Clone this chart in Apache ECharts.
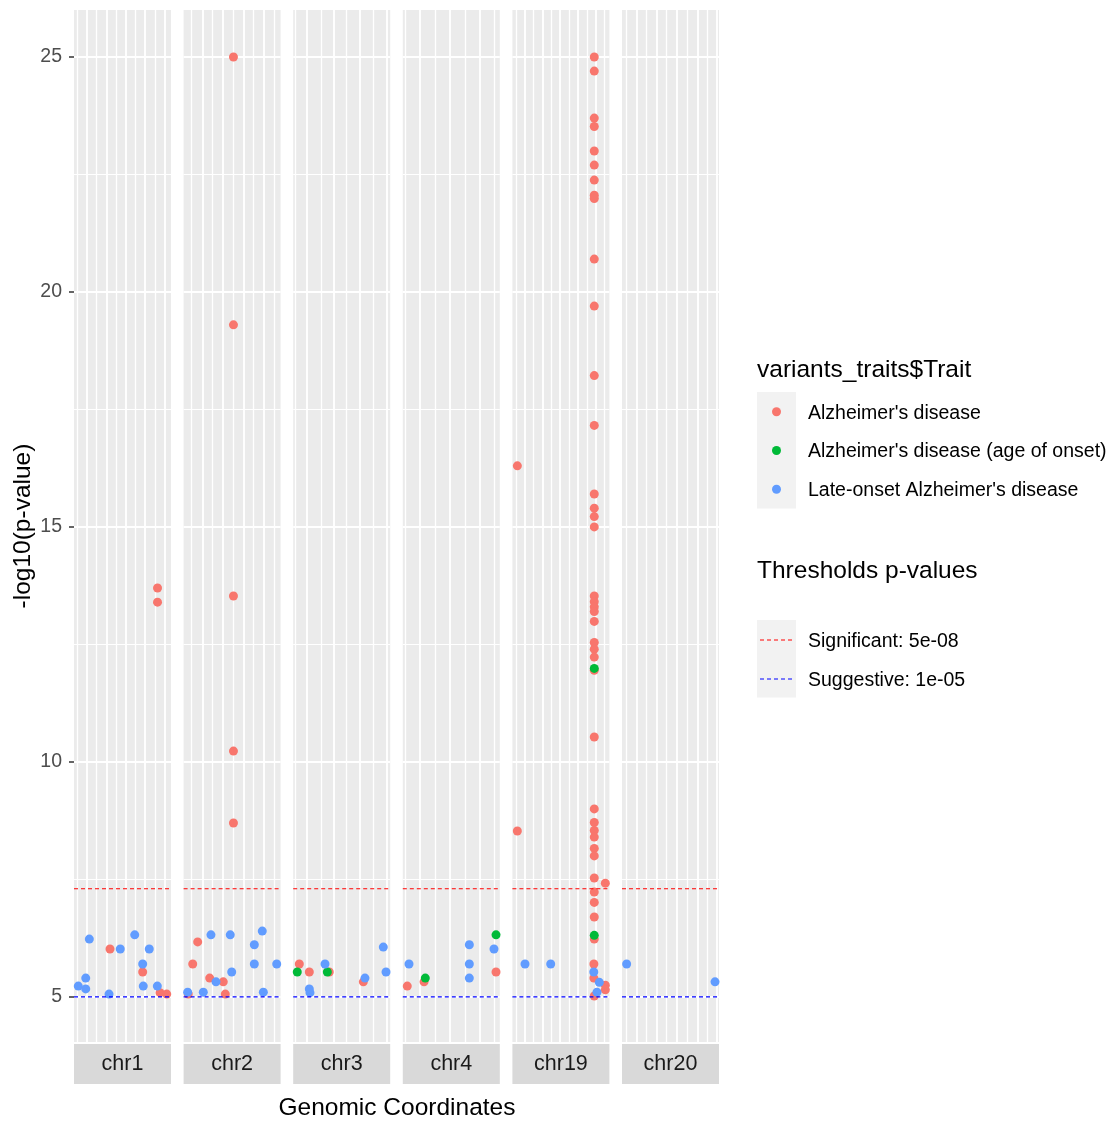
<!DOCTYPE html>
<html><head><meta charset="utf-8">
<script src="https://cdn.jsdelivr.net/npm/echarts@6/dist/echarts.min.js"></script>
<style>html,body{margin:0;padding:0;background:#fff}#chart{width:1114px;height:1121px}</style>
</head><body><div id="chart"></div>
<script>
// ---------- data ----------
const chromosomes = ['chr1', 'chr2', 'chr3', 'chr4', 'chr19', 'chr20'];
const traits = ["Alzheimer's disease", "Alzheimer's disease (age of onset)", "Late-onset Alzheimer's disease"];
const traitColors = ['#F8766D', '#00BA38', '#619CFF'];
const thresholdNames = ['Significant: 5e-08', 'Suggestive: 1e-05'];
const thresholdValues = [-Math.log10(5e-8), -Math.log10(1e-5)];
const thresholdColors = ['#FF0000', '#0000FF'];
const yTicks = [5, 10, 15, 20, 25];
const yMinorTicks = [7.5, 12.5, 17.5, 22.5];
const yRange = [4.04, 26.0];
const xRange = [0, 100];
// x = relative genomic position within each chromosome panel (0-100), y = -log10(p)
const chr1_ad    = [[37.1, 6.02], [70.8, 5.53], [88.7, 5.09], [95.6, 5.06], [86.1, 13.70], [86.1, 13.40]];
const chr1_onset = [];
const chr1_late  = [[4.4, 5.23], [12.1, 5.40], [12.1, 5.17], [15.8, 6.23], [47.7, 6.02], [36.1, 5.06], [62.6, 6.32], [77.6, 6.02], [70.8, 5.70], [71.4, 5.23], [85.9, 5.23]];
const chr2_ad    = [[4.8, 5.06], [9.4, 5.70], [14.5, 6.17], [26.9, 5.40], [40.9, 5.32], [43.0, 5.06], [51.4, 25.0], [51.4, 19.30], [51.4, 13.53], [51.4, 10.23], [51.4, 8.70]];
const chr2_onset = [];
const chr2_late  = [[4.2, 5.10], [20.3, 5.10], [28.2, 6.32], [33.4, 5.32], [48.1, 6.32], [49.6, 5.53], [72.9, 6.11], [81.1, 6.40], [72.9, 5.70], [82.2, 5.10], [96.0, 5.70]];
const chr3_ad    = [[6.3, 5.70], [16.6, 5.53], [37.2, 5.53], [72.3, 5.32]];
const chr3_onset = [[4.2, 5.53], [35.2, 5.53]];
const chr3_late  = [[16.6, 5.17], [17.3, 5.09], [32.8, 5.70], [74.0, 5.40], [92.9, 6.06], [95.7, 5.53]];
const chr4_ad    = [[4.6, 5.23], [21.9, 5.32], [96.1, 5.53]];
const chr4_onset = [[23.2, 5.40], [96.1, 6.32]];
const chr4_late  = [[6.4, 5.70], [68.6, 6.11], [68.6, 5.70], [68.6, 5.40], [94.0, 6.02]];
const chr19_ad   = [[5.1, 16.30], [5.1, 8.53],
  [84.4, 25.0], [84.4, 24.70], [84.4, 23.70], [84.4, 23.52], [84.4, 23.0], [84.4, 22.70], [84.4, 22.38], [84.4, 22.06], [84.4, 21.99],
  [84.4, 20.70], [84.4, 19.70], [84.4, 18.22], [84.4, 17.16], [84.4, 15.70], [84.4, 15.40], [84.4, 15.22], [84.4, 15.0],
  [84.4, 13.53], [84.4, 13.41], [84.4, 13.30], [84.4, 13.20], [84.4, 12.99], [84.4, 12.54], [84.4, 12.40], [84.4, 12.23], [84.4, 11.95],
  [84.4, 10.53], [84.4, 9.0], [84.4, 8.71], [84.4, 8.54], [84.4, 8.40], [84.4, 8.16], [84.4, 8.0], [84.4, 7.53], [84.4, 7.23], [84.4, 7.01],
  [84.4, 6.70], [84.4, 6.23], [84.0, 5.70], [84.0, 5.40], [84.4, 5.02], [95.8, 7.42], [95.8, 5.25], [95.8, 5.15]];
const chr19_onset = [[84.4, 11.99], [84.4, 6.31]];
const chr19_late  = [[13.0, 5.70], [39.5, 5.70], [83.9, 5.53], [89.6, 5.31], [87.2, 5.10]];
const chr20_ad    = [];
const chr20_onset = [];
const chr20_late  = [[4.8, 5.70], [95.9, 5.32]];
// vertical grid breaks (relative position within each panel)
const xMajorBreaks = {
  chr1: [13.4, 33.4, 53.4, 73.4, 93.4],
  chr2: [19.3, 40.3, 61.5, 82.9],
  chr3: [14.0, 41.4, 68.8, 96.2],
  chr4: [17.7, 48.7, 79.6],
  chr19: [13.0, 31.2, 49.1, 67.6, 85.9],
  chr20: [15.2, 35.8, 56.4, 77.6, 97.6]
};
const xMinorBreaks = {
  chr1: [3.4, 23.4, 43.4, 63.4, 83.4],
  chr2: [8.4, 30.0, 51.2, 71.8, 93.2],
  chr3: [1.9, 28.7, 55.1, 82.5],
  chr4: [2.3, 33.2, 64.1, 94.0],
  chr19: [4.4, 21.5, 40.5, 58.4, 77.2, 94.8],
  chr20: [4.8, 25.5, 46.1, 67.3, 87.9]
};
const seriesData = {
  chr1: [chr1_ad, chr1_onset, chr1_late],
  chr2: [chr2_ad, chr2_onset, chr2_late],
  chr3: [chr3_ad, chr3_onset, chr3_late],
  chr4: [chr4_ad, chr4_onset, chr4_late],
  chr19: [chr19_ad, chr19_onset, chr19_late],
  chr20: [chr20_ad, chr20_onset, chr20_late]
};

// ---------- layout ----------
const FONT = '"Liberation Sans", Arial, sans-serif';
const panelLeft = 74, panelPitch = 109.6, panelWidth = 97, panelTop = 10, panelHeight = 1032;

const grids = [], xAxes = [], yAxes = [], series = [];
chromosomes.forEach((chr, i) => {
  grids.push({left: panelLeft + i * panelPitch, top: panelTop, width: panelWidth, height: panelHeight,
    show: true, backgroundColor: '#EBEBEB', borderWidth: 0, containLabel: false});
  xAxes.push({
    gridIndex: i, type: 'value', min: xRange[0], max: xRange[1], position: 'bottom',
    axisLine: {show: false}, axisLabel: {show: false},
    axisTick: {show: false, customValues: xMajorBreaks[chr]},
    splitLine: {show: true, lineStyle: {color: '#FFFFFF', width: 1.9}},
    name: '{s|' + chr + '}', nameLocation: 'middle', nameGap: 2,
    nameTextStyle: {verticalAlign: 'top', align: 'center',
      rich: {s: {fontFamily: FONT, fontSize: 21.5, color: '#1A1A1A', backgroundColor: '#D9D9D9',
        width: panelWidth, height: 40, lineHeight: 40, align: 'center', verticalAlign: 'middle'}}}
  });
  xAxes.push({
    gridIndex: i, type: 'value', min: xRange[0], max: xRange[1], position: 'top',
    axisLine: {show: false}, axisLabel: {show: false},
    axisTick: {show: false, customValues: xMinorBreaks[chr]},
    splitLine: {show: true, lineStyle: {color: '#FFFFFF', width: 1.3}}
  });
  yAxes.push({
    gridIndex: i, type: 'value', min: yRange[0], max: yRange[1], position: 'left',
    axisLine: {show: false},
    axisTick: {show: i === 0, length: 5, lineStyle: {color: '#333333', width: 1.5}, customValues: yTicks},
    axisLabel: {show: i === 0, customValues: yTicks, margin: 12, color: '#4D4D4D', fontSize: 19.5, fontFamily: FONT},
    splitLine: {show: true, lineStyle: {color: '#FFFFFF', width: 1.8}},
    name: i === 0 ? '-log10(p-value)' : '', nameLocation: 'middle', nameGap: 38, nameRotate: 90,
    nameTextStyle: {fontFamily: FONT, fontSize: 24.5, color: '#000000'}
  });
  yAxes.push({
    gridIndex: i, type: 'value', min: yRange[0], max: yRange[1], position: 'right',
    axisLine: {show: false}, axisLabel: {show: false},
    axisTick: {show: false, customValues: yMinorTicks},
    splitLine: {show: true, lineStyle: {color: '#FFFFFF', width: 1.0}}
  });
  seriesData[chr].forEach((pts, k) => {
    series.push({
      type: 'scatter', name: traits[k], xAxisIndex: 2 * i, yAxisIndex: 2 * i,
      data: pts, symbol: 'circle', symbolSize: 9, z: 2 + k * 0.01, silent: true, animation: false,
      clip: false, itemStyle: {color: traitColors[k], opacity: 1}
    });
  });
  thresholdValues.forEach((v, j) => {
    series.push({
      type: 'line', name: thresholdNames[j], xAxisIndex: 2 * i, yAxisIndex: 2 * i,
      data: [[xRange[0], v], [xRange[1], v]], z: 4, silent: true, animation: false,
      symbol: 'none', showSymbol: false, clip: false,
      lineStyle: {color: thresholdColors[j], type: [4, 3], width: 1.2, opacity: 1}
    });
  });
});

// ---------- legends (graphic) ----------
const legendX = 757, keyW = 39;
const graphic = [
  {type: 'text', x: 397, y: 1108, style: {text: 'Genomic Coordinates', fontFamily: FONT, fontSize: 24.5, fill: '#000', align: 'center', verticalAlign: 'middle'}},
  {type: 'text', x: legendX, y: 370, style: {text: 'variants_traits$Trait', fontFamily: FONT, fontSize: 24.5, fill: '#000', align: 'left', verticalAlign: 'middle'}},
  {type: 'rect', shape: {x: legendX, y: 392, width: keyW, height: 116.5}, style: {fill: '#F2F2F2'}},
  {type: 'text', x: legendX, y: 571.5, style: {text: 'Thresholds p-values', fontFamily: FONT, fontSize: 24.5, fill: '#000', align: 'left', verticalAlign: 'middle'}},
  {type: 'rect', shape: {x: legendX, y: 620, width: keyW, height: 77.5}, style: {fill: '#F2F2F2'}}
];
traits.forEach((t, k) => {
  const cy = 411.7 + k * 38.8;
  graphic.push({type: 'circle', shape: {cx: legendX + keyW / 2, cy: cy, r: 4.5}, style: {fill: traitColors[k]}});
  graphic.push({type: 'text', x: 808, y: cy + 1.5, style: {text: t, fontFamily: FONT, fontSize: 19.5, fill: '#000', align: 'left', verticalAlign: 'middle'}});
});
thresholdNames.forEach((t, j) => {
  const cy = 640 + j * 39;
  graphic.push({type: 'line', shape: {x1: legendX + 3, y1: cy, x2: legendX + 35, y2: cy}, style: {stroke: thresholdColors[j], lineWidth: 1.2, lineDash: [4, 3]}});
  graphic.push({type: 'text', x: 808, y: cy + 1.5, style: {text: t, fontFamily: FONT, fontSize: 19.5, fill: '#000', align: 'left', verticalAlign: 'middle'}});
});

const chart = echarts.init(document.getElementById('chart'), null, {renderer: 'canvas'});
chart.setOption({
  backgroundColor: '#FFFFFF',
  animation: false,
  grid: grids, xAxis: xAxes, yAxis: yAxes, series: series,
  graphic: graphic
});
</script></body></html>
